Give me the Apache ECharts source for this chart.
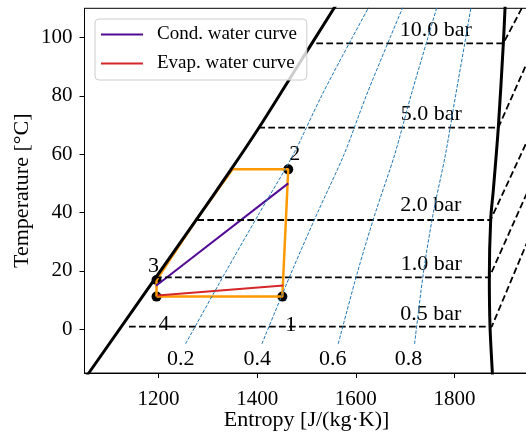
<!DOCTYPE html>
<html>
<head>
<meta charset="utf-8">
<script src="https://cdn.jsdelivr.net/npm/echarts@6/dist/echarts.min.js"></script>
<style>html,body{margin:0;padding:0;background:#fff}#chart{width:526px;height:434px}</style>
</head>
<body>
<div id="chart"></div>
<script>
var xTicks = [1200, 1400, 1600, 1800];
var yTicks = [0, 20, 40, 60, 80, 100];

// saturation dome, [entropy, temperature]
var satLiquid = [[1054.5,-16],[1059.1,-14.9],[1274.0,36.9],[1346.4,54.6],[1402.9,68.9],[1462.5,84.9],[1554.4,109.7],[1563.6,112]];
var satVapor = [[1877,-16],[1876.7,-14.9],[1872,0.9],[1870.6,17.8],[1873.4,37.7],[1878.7,47.7],[1888.8,69.1],[1899,98],[1902.4,110],[1903,112]];

// isobars
var isobarNames = ['10.0 bar', '5.0 bar', '2.0 bar', '1.0 bar', '0.5 bar'];
var isobarLines = [
  [[1519.9,98.0],[1899,98.0],[1950,114.4]],
  [[1402.3,69.1],[1888.8,69.1],[1950,92.5]],
  [[1278.7,37.45],[1873,37.45],[1950,65.5]],
  [[1193,17.8],[1870.6,17.8],[1950,47.9]],
  [[1140.2,0.9],[1875.5,0.9],[1950,30.9]]
];
var isobarLabelPos = [[1762,102.5],[1753,73.7],[1752,42.4],[1753,22.4],[1752,5.3]];

// vapour quality lines
var qualityNames = ['0.2', '0.4', '0.6', '0.8'];
var qualityTemps = [-5, 20, 40, 60, 80, 100, 112];
var qualityS = [
  [1254.8, 1337.3, 1405.1, 1473.5, 1530.5, 1592.9, 1631.5],
  [1409.6, 1470.7, 1522.5, 1576.3, 1621.0, 1669.6, 1699.4],
  [1564.3, 1604.1, 1639.8, 1679.0, 1711.6, 1746.2, 1767.2],
  [1719.1, 1737.5, 1757.2, 1781.8, 1802.1, 1822.9, 1835.1]
];
var qualityLabelPos = [[1245,-10.4],[1400,-10.4],[1553,-10.4],[1707,-10.4]];

// cycle
var stateNames = ['1', '2', '3', '4'];
var statePoints = [[1451,11.2],[1463,54.8],[1196,16.9],[1196,11.2]];
var stateLabelPos = [[1468,1.4],[1476,60.0],[1190,21.6],[1211,1.9]];
var cyclePath = [[1196,11.2],[1451,11.2],[1463,54.8],[1350,54.8],[1274,36.9],[1196,16.9],[1196,11.2]];

var condWater = [[1195,14.9],[1463,50.0]];
var evapWater = [[1197.6,11.6],[1453,15.0]];

var FONT = 'Liberation Serif';

var chart = echarts.init(document.getElementById('chart'));

var series = [];
series.push({type:'line', data:cyclePath, symbol:'none', lineStyle:{color:'#ff9900', width:2.5}});
series.push({name:'Cond. water curve', type:'line', data:condWater, symbol:'none',
  itemStyle:{color:'#520a94'}, lineStyle:{color:'#520a94', width:2}});
series.push({name:'Evap. water curve', type:'line', data:evapWater, symbol:'none',
  itemStyle:{color:'#d62728'}, lineStyle:{color:'#d62728', width:2}});
series.push({type:'scatter', data:statePoints, symbolSize:10, itemStyle:{color:'#000', opacity:1}});
series.push({type:'line', data:satLiquid, symbol:'none', smooth:0.3, lineStyle:{color:'#000', width:3}});
series.push({type:'line', data:satVapor, symbol:'none', smooth:0.3, lineStyle:{color:'#000', width:3}});
isobarLines.forEach(function (d) {
  series.push({type:'line', data:d, symbol:'none', lineStyle:{color:'#000', width:1.8, type:[6.7,3.3]}});
});
qualityS.forEach(function (row) {
  series.push({type:'line', symbol:'none', smooth:0.3,
    data: row.map(function (s, i) { return [s, qualityTemps[i]]; }),
    lineStyle:{color:'#1f77b4', width:1, type:[3.5,1.6]}});
});

var labels = [];
isobarNames.forEach(function (n, i) { labels.push([isobarLabelPos[i][0], isobarLabelPos[i][1], n]); });
qualityNames.forEach(function (n, i) { labels.push([qualityLabelPos[i][0], qualityLabelPos[i][1], n]); });
stateNames.forEach(function (n, i) { labels.push([stateLabelPos[i][0], stateLabelPos[i][1], n]); });
series.push({type:'scatter', data:labels, symbolSize:1, itemStyle:{color:'rgba(0,0,0,0)', opacity:1},
  label:{show:true, position:'inside', formatter:function (p) { return p.data[2]; },
    color:'#000', opacity:1, textBorderWidth:0, fontSize:22, fontFamily:FONT}});

chart.setOption({
  animation: false,
  grid: {left:84.5, top:8.3, width:444, height:364.75, outerBoundsMode:'none', containLabel:false,
    show:true, borderColor:'#000', borderWidth:1},
  legend: {
    data:['Cond. water curve', 'Evap. water curve'],
    orient:'vertical', left:95, top:19,
    icon:'rect', itemWidth:42, itemHeight:2, itemGap:10,
    backgroundColor:'rgba(255,255,255,0.8)', borderColor:'#cccccc', borderWidth:1, borderRadius:4,
    padding:[6, 10, 7, 6],
    textStyle:{fontSize:19, fontFamily:FONT, color:'#000', padding:[0,0,0,9]}
  },
  xAxis: {
    type:'value', min:1050, max:1950,
    name:'Entropy [J/(kg·K)]', nameLocation:'middle', nameGap:36, nameMoveOverlap:false,
    nameTextStyle:{fontSize:22, fontFamily:FONT, color:'#000'},
    axisLine:{onZero:false, lineStyle:{color:'#000', width:1}},
    axisTick:{show:true, customValues:xTicks, length:5, lineStyle:{color:'#000'}},
    axisLabel:{customValues:xTicks, formatter:function (v) { return String(v); },
      fontSize:21, fontFamily:FONT, color:'#000', margin:16},
    splitLine:{show:false}
  },
  yAxis: {
    type:'value', min:-15, max:110,
    name:'Temperature [°C]', nameLocation:'middle', nameGap:51, nameMoveOverlap:false,
    nameTextStyle:{fontSize:22, fontFamily:FONT, color:'#000'},
    axisLine:{show:true, onZero:false, lineStyle:{color:'#000', width:1}},
    axisTick:{show:true, customValues:yTicks, length:5, lineStyle:{color:'#000'}},
    axisLabel:{customValues:yTicks, formatter:function (v) { return String(v); },
      fontSize:21, fontFamily:FONT, color:'#000', margin:12},
    splitLine:{show:false}
  },
  series: series
});
</script>
</body>
</html>
